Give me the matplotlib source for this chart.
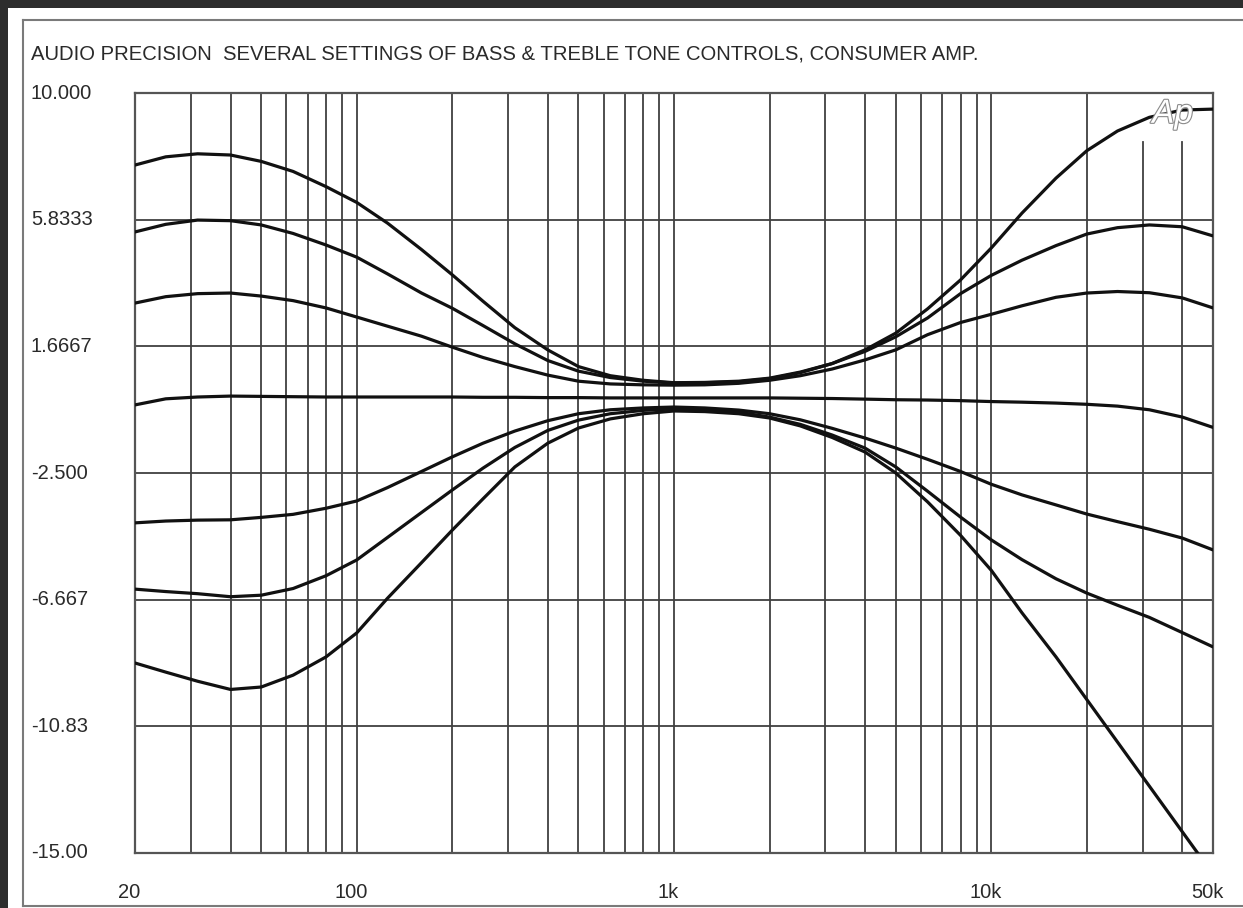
import matplotlib
matplotlib.use("Agg")
import matplotlib.pyplot as plt
import matplotlib.transforms as mtransforms
import matplotlib.patheffects as pe
from matplotlib.lines import Line2D
from matplotlib.patches import Rectangle

plt.rcParams['font.family'] = ['Liberation Sans', 'DejaVu Sans']

# ---------------- data (1/3-octave points) ----------------
freq = [20, 25, 31.5, 40, 50, 63, 80, 100, 125, 160, 200, 250, 315, 400, 500, 630, 800,
        1000, 1250, 1600, 2000, 2500, 3150, 4000, 5000, 6300, 8000,
        10000, 12500, 16000, 20000, 25000, 31500, 40000, 50000]

boost_max = [7.63, 7.9, 8.0, 7.96, 7.75, 7.42, 6.92, 6.4, 5.72, 4.85, 4.02, 3.15, 2.28, 1.55, 1.0, 0.7, 0.55,
             0.47, 0.48, 0.52, 0.62, 0.82, 1.1, 1.55, 2.1, 2.9, 3.85,
             4.9, 6.05, 7.2, 8.1, 8.75, 9.2, 9.44, 9.47]
boost_mid = [5.43, 5.68, 5.82, 5.8, 5.66, 5.38, 5.0, 4.6, 4.05, 3.42, 2.92, 2.35, 1.75, 1.2, 0.85, 0.64, 0.52,
             0.46, 0.47, 0.5, 0.6, 0.8, 1.1, 1.5, 1.98, 2.6, 3.4,
             4.0, 4.5, 4.98, 5.36, 5.57, 5.66, 5.6, 5.3]
boost_low = [3.09, 3.3, 3.4, 3.42, 3.32, 3.17, 2.93, 2.63, 2.33, 2.0, 1.64, 1.3, 1.0, 0.72, 0.52, 0.43, 0.4,
             0.39, 0.4, 0.45, 0.55, 0.7, 0.92, 1.22, 1.55, 2.05, 2.45,
             2.72, 3.0, 3.28, 3.42, 3.47, 3.43, 3.26, 2.93]
flat = [-0.26, -0.06, 0.0, 0.03, 0.02, 0.01, 0.0, 0.0, 0.0, 0.0, 0.0, -0.01, -0.01, -0.02, -0.02, -0.03, -0.03,
        -0.03, -0.03, -0.03, -0.03, -0.04, -0.05, -0.07, -0.09, -0.1, -0.12,
        -0.15, -0.17, -0.2, -0.24, -0.3, -0.42, -0.66, -1.0]
cut_low = [-4.14, -4.08, -4.05, -4.04, -3.96, -3.86, -3.66, -3.42, -2.98, -2.45, -1.97, -1.52, -1.12, -0.78, -0.55, -0.42, -0.36,
           -0.33, -0.36, -0.43, -0.55, -0.75, -1.03, -1.35, -1.68, -2.05, -2.45,
           -2.87, -3.22, -3.55, -3.85, -4.1, -4.35, -4.64, -5.03]
cut_mid = [-6.32, -6.4, -6.47, -6.57, -6.52, -6.3, -5.88, -5.36, -4.62, -3.8, -3.06, -2.34, -1.66, -1.1, -0.76, -0.55, -0.44,
           -0.39, -0.42, -0.5, -0.66, -0.9, -1.25, -1.68, -2.3, -3.1, -3.95,
           -4.7, -5.35, -5.98, -6.45, -6.85, -7.25, -7.75, -8.22]
cut_max = [-8.75, -9.05, -9.35, -9.62, -9.54, -9.15, -8.55, -7.76, -6.62, -5.45, -4.38, -3.35, -2.3, -1.52, -1.02, -0.72, -0.55,
           -0.46, -0.48, -0.55, -0.69, -0.95, -1.33, -1.81, -2.5, -3.45, -4.55,
           -5.7, -7.1, -8.55, -9.95, -11.35, -12.8, -14.3, -15.7]

series = [boost_max, boost_mid, boost_low, flat, cut_low, cut_mid, cut_max]

y_ticks = [10.0, 5.8333, 1.6667, -2.5, -6.667, -10.83, -15.0]
y_tick_labels = ["10.000", "5.8333", "1.6667", "-2.500", "-6.667", "-10.83", "-15.00"]
x_ticks = [20, 100, 1000, 10000, 50000]
x_tick_labels = ["20", "100", "1k", "10k", "50k"]
grid_freqs = [30, 40, 50, 60, 70, 80, 90, 100, 200, 300, 400, 500, 600, 700, 800, 900,
              1000, 2000, 3000, 4000, 5000, 6000, 7000, 8000, 9000, 10000, 20000]
short_grid_freqs = [30000, 40000]

title = "AUDIO PRECISION  SEVERAL SETTINGS OF BASS & TREBLE TONE CONTROLS, CONSUMER AMP."

# ---------------- figure ----------------
W, H = 1243, 908
fig = plt.figure(figsize=(W / 100, H / 100), dpi=100)
fig.patch.set_facecolor('#2d2d2d')
fig.add_artist(Rectangle((8 / W, 0), 1 - 8 / W, (H - 8) / H, transform=fig.transFigure,
                         facecolor='white', edgecolor='none', zorder=-10))
frame_col = '#7a7a7a'
for xs, ys in [([23 / W, 23 / W], [1 - 20 / H, 1 - 906 / H]),
               ([23 / W, 1], [1 - 20 / H, 1 - 20 / H]),
               ([23 / W, 1], [1 - 906 / H, 1 - 906 / H])]:
    fig.add_artist(Line2D(xs, ys, transform=fig.transFigure, color=frame_col, lw=1.5, zorder=-5))

left, right, top, bottom = 135, 1213, 93, 853
ax = fig.add_axes([left / W, 1 - bottom / H, (right - left) / W, (bottom - top) / H])
ax.set_zorder(1)
ax.set_facecolor('white')
ax.set_xscale('log')
ax.set_xlim(20, 50000)
ax.set_ylim(-15, 10)

grid_col = '#404040'
for f in grid_freqs:
    ax.axvline(f, color=grid_col, lw=1.3, zorder=1)
for f in short_grid_freqs:
    ax.axvline(f, ymax=(bottom - 142) / (bottom - top), color=grid_col, lw=1.3, zorder=1)
for yv in y_ticks[1:-1]:
    ax.axhline(yv, color=grid_col, lw=1.3, zorder=1)

for s in series:
    ax.plot(freq, s, color='#111111', lw=2.3, solid_capstyle='round', solid_joinstyle='round', zorder=3)

for sp in ax.spines.values():
    sp.set_color('#555555')
    sp.set_linewidth(1.6)
ax.set_xticks([])
ax.set_yticks([])
ax.minorticks_off()
ax.tick_params(which='both', length=0)

txt_col = '#2a2a2a'
fs = 14.5
ytrans = mtransforms.blended_transform_factory(fig.transFigure, ax.transData)
for yv, lab in zip(y_ticks, y_tick_labels):
    fig.text(31 / W, yv, lab, transform=ytrans, ha='left', va='center', fontsize=fs, color=txt_col)

xtrans = mtransforms.offset_copy(
    mtransforms.blended_transform_factory(ax.transData, fig.transFigure), fig=fig, x=-6, units='dots')
for xv, lab in zip(x_ticks, x_tick_labels):
    fig.text(xv, 1 - 892 / H, lab, transform=xtrans, ha='center', va='center', fontsize=fs, color=txt_col)

fig.text(31 / W, 1 - 54 / H, title, ha='left', va='center', fontsize=14.6, color=txt_col)

# Ap logo (outlined)
ax.text(37300, 9.3, "Ap", ha='center', va='center', fontsize=24, fontstyle='italic',
        color='white', zorder=4,
        path_effects=[pe.withStroke(linewidth=1.6, foreground='#8a8a8a')])

fig.savefig("out.png", dpi=100, facecolor=fig.get_facecolor())
